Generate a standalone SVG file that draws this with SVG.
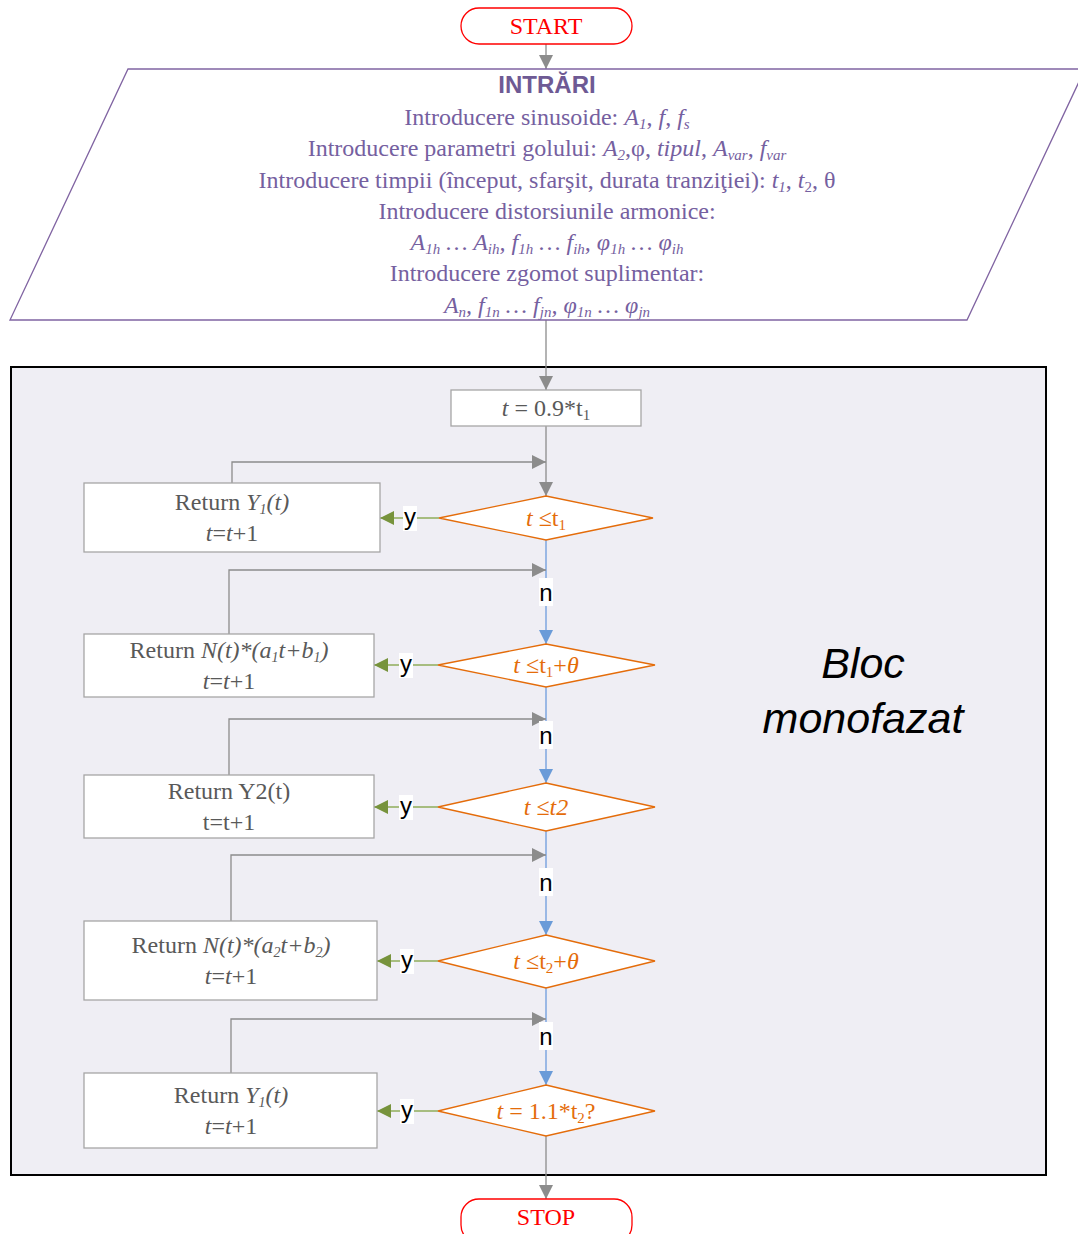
<svg xmlns="http://www.w3.org/2000/svg" width="1078" height="1234" viewBox="0 0 1078 1234">
<defs>
  <style>
    .term{fill:#fff;stroke:#ff0000;stroke-width:1.3}
    .termtxt{font-family:"Liberation Serif",serif;font-size:24px;fill:#ff0000;text-anchor:middle}
    .inp{fill:#fff;stroke:#8064a2;stroke-width:1.3}
    .inptxt{font-family:"Liberation Serif",serif;font-size:24px;fill:#7560a0;text-anchor:middle}
    .inphead{font-family:"Liberation Sans",sans-serif;font-size:24px;font-weight:bold;fill:#6e5a94;text-anchor:middle}
    .proc{fill:#fff;stroke:#a6a6a6;stroke-width:1.3}
    .proctxt{font-family:"Liberation Serif",serif;font-size:24px;fill:#595959;text-anchor:middle}
    .dec{fill:#fff;stroke:#e46c0a;stroke-width:1.3}
    .dectxt{font-family:"Liberation Serif",serif;font-size:24px;fill:#e46c0a;text-anchor:middle}
    .gray{fill:none;stroke:#8c8c8c;stroke-width:1.3}
    .green{fill:none;stroke:#8fad5a;stroke-width:1.5}
    .blue{fill:none;stroke:#7ea6e0;stroke-width:1.5}
    .lblbg{fill:#fff}
    .lbl{font-family:"Liberation Sans",sans-serif;font-size:24px;fill:#000;text-anchor:middle}
    .bloc{font-family:"Liberation Sans",sans-serif;font-size:43px;font-style:italic;fill:#000;text-anchor:middle}
    .i{font-style:italic}
  </style>
  <marker id="ahGray" markerUnits="userSpaceOnUse" markerWidth="14" markerHeight="14" viewBox="0 0 14 14" refX="14" refY="7" orient="auto">
    <path d="M0,0 L14,7 L0,14 z" fill="#8c8c8c"/>
  </marker>
  <marker id="ahGreen" markerUnits="userSpaceOnUse" markerWidth="14" markerHeight="14" viewBox="0 0 14 14" refX="14" refY="7" orient="auto">
    <path d="M0,0 L14,7 L0,14 z" fill="#77933c"/>
  </marker>
  <marker id="ahBlue" markerUnits="userSpaceOnUse" markerWidth="14" markerHeight="14" viewBox="0 0 14 14" refX="14" refY="7" orient="auto">
    <path d="M0,0 L14,7 L0,14 z" fill="#6a9bd8"/>
  </marker>
</defs>

<rect width="1078" height="1234" fill="#fff"/>

<!-- single-phase block container -->
<g id="bloc-monofazat">
  <rect x="11" y="367" width="1035" height="808" fill="#efeef4" stroke="#000" stroke-width="2"/>
  <text class="bloc" x="863" y="678">Bloc</text>
  <text class="bloc" x="863" y="733">monofazat</text>
</g>

<!-- connectors -->
<g id="connectors">
  <line class="gray" x1="546" y1="44" x2="546" y2="69" marker-end="url(#ahGray)"/>
  <line class="gray" x1="546" y1="320" x2="546" y2="390" marker-end="url(#ahGray)"/>
  <line class="gray" x1="546" y1="426" x2="546" y2="496" marker-end="url(#ahGray)"/>
  <polyline class="gray" points="232,483 232,462 546,462" marker-end="url(#ahGray)"/>
  <line class="green" x1="439" y1="518" x2="380" y2="518" marker-end="url(#ahGreen)"/>
  <line class="blue" x1="546" y1="540" x2="546" y2="644" marker-end="url(#ahBlue)"/>

  <polyline class="gray" points="229,634 229,570 546,570" marker-end="url(#ahGray)"/>
  <line class="green" x1="438" y1="665" x2="374" y2="665" marker-end="url(#ahGreen)"/>
  <line class="blue" x1="546" y1="687" x2="546" y2="783" marker-end="url(#ahBlue)"/>

  <polyline class="gray" points="229,775 229,719 546,719" marker-end="url(#ahGray)"/>
  <line class="green" x1="438" y1="807" x2="374" y2="807" marker-end="url(#ahGreen)"/>
  <line class="blue" x1="546" y1="831" x2="546" y2="935" marker-end="url(#ahBlue)"/>

  <polyline class="gray" points="231,921 231,855 546,855" marker-end="url(#ahGray)"/>
  <line class="green" x1="438" y1="961" x2="377" y2="961" marker-end="url(#ahGreen)"/>
  <line class="blue" x1="546" y1="988" x2="546" y2="1085" marker-end="url(#ahBlue)"/>

  <polyline class="gray" points="231,1073 231,1019 546,1019" marker-end="url(#ahGray)"/>
  <line class="green" x1="438" y1="1111" x2="377" y2="1111" marker-end="url(#ahGreen)"/>
  <line class="gray" x1="546" y1="1136" x2="546" y2="1199" marker-end="url(#ahGray)"/>

  <!-- branch labels -->
  <rect class="lblbg" x="403" y="506" width="14" height="25"/><text class="lbl" x="410" y="525">y</text>
  <rect class="lblbg" x="399" y="653" width="14" height="25"/><text class="lbl" x="406" y="672">y</text>
  <rect class="lblbg" x="399" y="795" width="14" height="25"/><text class="lbl" x="406" y="814">y</text>
  <rect class="lblbg" x="400" y="949" width="14" height="25"/><text class="lbl" x="407" y="968">y</text>
  <rect class="lblbg" x="400" y="1099" width="14" height="25"/><text class="lbl" x="407" y="1118">y</text>

  <rect class="lblbg" x="539" y="578" width="14" height="28"/><text class="lbl" x="546" y="601">n</text>
  <rect class="lblbg" x="539" y="721" width="14" height="28"/><text class="lbl" x="546" y="744">n</text>
  <rect class="lblbg" x="539" y="868" width="14" height="28"/><text class="lbl" x="546" y="891">n</text>
  <rect class="lblbg" x="539" y="1022" width="14" height="28"/><text class="lbl" x="546" y="1045">n</text>
</g>

<g id="start">
  <rect class="term" x="461" y="8" width="171" height="36" rx="18"/>
  <text class="termtxt" x="546" y="34">START</text>
</g>

<g id="intrari">
  <polygon class="inp" points="128,69 1085,69 967,320 10,320"/>
  <text class="inphead" x="547" y="93">INTRĂRI</text>
  <text class="inptxt" x="547" y="125">Introducere sinusoide: <tspan class="i">A</tspan><tspan class="i" font-size="15" dy="4">1</tspan><tspan dy="-4">,  </tspan><tspan class="i">f</tspan>, <tspan class="i">f</tspan><tspan class="i" font-size="15" dy="4">s</tspan></text>
  <text class="inptxt" x="547" y="156">Introducere parametri golului: <tspan class="i">A</tspan><tspan class="i" font-size="15" dy="4">2</tspan><tspan dy="-4">,φ, </tspan><tspan class="i">tipul</tspan>, <tspan class="i">A</tspan><tspan class="i" font-size="15" dy="4">var</tspan><tspan dy="-4">, </tspan><tspan class="i">f</tspan><tspan class="i" font-size="15" dy="4">var</tspan></text>
  <text class="inptxt" x="547" y="188">Introducere timpii (început, sfarşit, durata tranziţiei): <tspan class="i">t</tspan><tspan class="i" font-size="15" dy="4">1</tspan><tspan dy="-4">, </tspan><tspan class="i">t</tspan><tspan font-size="15" dy="4">2</tspan><tspan dy="-4">, θ</tspan></text>
  <text class="inptxt" x="547" y="219">Introducere distorsiunile armonice:</text>
  <text class="inptxt i" x="547" y="250">A<tspan font-size="15" dy="4">1h</tspan><tspan dy="-4"> … A</tspan><tspan font-size="15" dy="4">ih</tspan><tspan dy="-4">, f</tspan><tspan font-size="15" dy="4">1h</tspan><tspan dy="-4"> … f</tspan><tspan font-size="15" dy="4">ih</tspan><tspan dy="-4">, φ</tspan><tspan font-size="15" dy="4">1h</tspan><tspan dy="-4"> … φ</tspan><tspan font-size="15" dy="4">ih</tspan></text>
  <text class="inptxt" x="547" y="281">Introducere zgomot suplimentar:</text>
  <text class="inptxt i" x="547" y="313">A<tspan font-size="15" dy="4">n</tspan><tspan dy="-4">, f</tspan><tspan font-size="15" dy="4">1n</tspan><tspan dy="-4"> … f</tspan><tspan font-size="15" dy="4">jn</tspan><tspan dy="-4">, φ</tspan><tspan font-size="15" dy="4">1n</tspan><tspan dy="-4"> … φ</tspan><tspan font-size="15" dy="4">jn</tspan></text>
</g>

<g id="init">
  <rect class="proc" x="451" y="390" width="190" height="36"/>
  <text class="proctxt" x="546" y="416"><tspan class="i">t</tspan> = 0.9*t<tspan font-size="15" dy="4">1</tspan></text>
</g>

<g id="dec1">
  <polygon class="dec" points="546,496 653,518 546,540 439,518"/>
  <text class="dectxt" x="546" y="526"><tspan class="i">t</tspan> ≤t<tspan font-size="15" dy="4">1</tspan></text>
</g>
<g id="ret1">
  <rect class="proc" x="84" y="483" width="296" height="69"/>
  <text class="proctxt" x="232" y="510">Return <tspan class="i">Y</tspan><tspan class="i" font-size="14" dy="4">1</tspan><tspan class="i" dy="-4">(t)</tspan></text>
  <text class="proctxt" x="232" y="541"><tspan class="i">t</tspan>=<tspan class="i">t</tspan>+1</text>
</g>

<g id="dec2">
  <polygon class="dec" points="546,644 655,665 546,687 438,665"/>
  <text class="dectxt" x="546" y="673"><tspan class="i">t</tspan> ≤t<tspan font-size="15" dy="4">1</tspan><tspan dy="-4">+</tspan><tspan class="i">θ</tspan></text>
</g>
<g id="ret2">
  <rect class="proc" x="84" y="634" width="290" height="63"/>
  <text class="proctxt" x="229" y="658">Return <tspan class="i">N(t)*(a</tspan><tspan class="i" font-size="14" dy="4">1</tspan><tspan class="i" dy="-4">t+b</tspan><tspan class="i" font-size="14" dy="4">1</tspan><tspan class="i" dy="-4">)</tspan></text>
  <text class="proctxt" x="229" y="689"><tspan class="i">t</tspan>=<tspan class="i">t</tspan>+1</text>
</g>

<g id="dec3">
  <polygon class="dec" points="546,783 655,807 546,831 438,807"/>
  <text class="dectxt" x="546" y="815"><tspan class="i">t</tspan> ≤<tspan class="i">t2</tspan></text>
</g>
<g id="ret3">
  <rect class="proc" x="84" y="775" width="290" height="63"/>
  <text class="proctxt" x="229" y="799">Return Y2(t)</text>
  <text class="proctxt" x="229" y="830">t=t+1</text>
</g>

<g id="dec4">
  <polygon class="dec" points="546,935 655,961 546,988 438,961"/>
  <text class="dectxt" x="546" y="969"><tspan class="i">t</tspan> ≤t<tspan font-size="15" dy="4">2</tspan><tspan dy="-4">+</tspan><tspan class="i">θ</tspan></text>
</g>
<g id="ret4">
  <rect class="proc" x="84" y="921" width="293" height="79"/>
  <text class="proctxt" x="231" y="953">Return <tspan class="i">N(t)*(a</tspan><tspan class="i" font-size="14" dy="4">2</tspan><tspan class="i" dy="-4">t+b</tspan><tspan class="i" font-size="14" dy="4">2</tspan><tspan class="i" dy="-4">)</tspan></text>
  <text class="proctxt" x="231" y="984"><tspan class="i">t</tspan>=<tspan class="i">t</tspan>+1</text>
</g>

<g id="dec5">
  <polygon class="dec" points="546,1085 655,1111 546,1136 438,1111"/>
  <text class="dectxt" x="546" y="1119"><tspan class="i">t</tspan> = 1.1*t<tspan font-size="15" dy="4">2</tspan><tspan dy="-4">?</tspan></text>
</g>
<g id="ret5">
  <rect class="proc" x="84" y="1073" width="293" height="75"/>
  <text class="proctxt" x="231" y="1103">Return <tspan class="i">Y</tspan><tspan class="i" font-size="14" dy="4">1</tspan><tspan class="i" dy="-4">(t)</tspan></text>
  <text class="proctxt" x="231" y="1134"><tspan class="i">t</tspan>=<tspan class="i">t</tspan>+1</text>
</g>

<g id="stop">
  <rect class="term" x="461" y="1199" width="171" height="44" rx="18"/>
  <text class="termtxt" x="546" y="1225">STOP</text>
</g>
</svg>
